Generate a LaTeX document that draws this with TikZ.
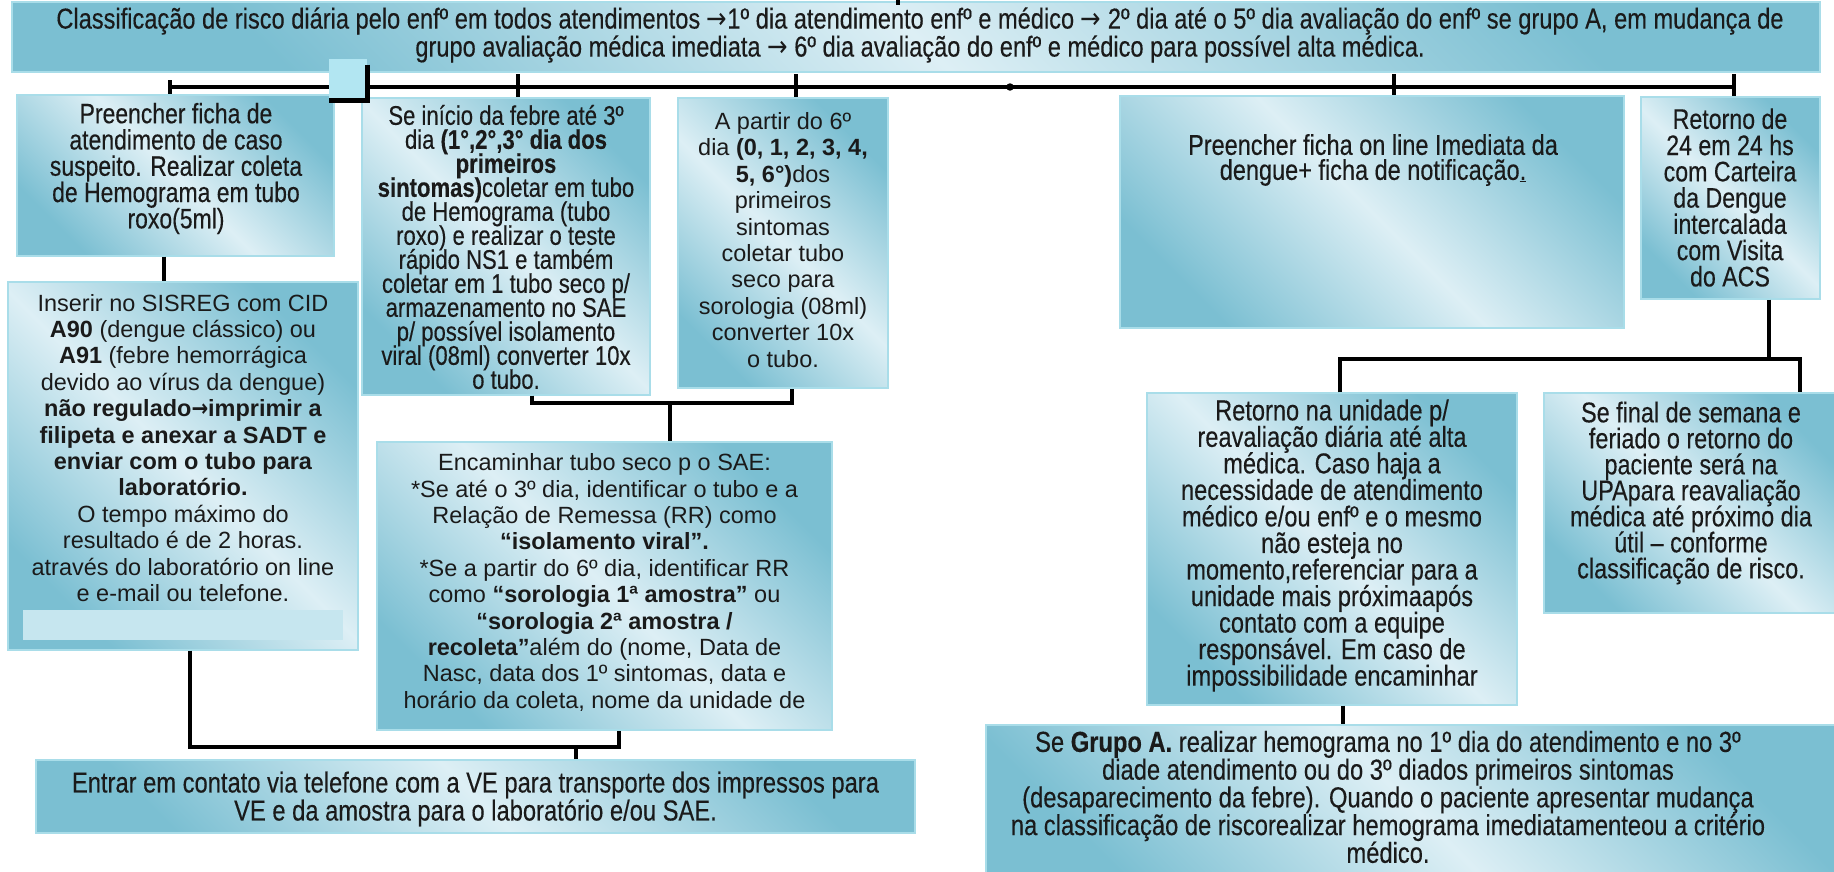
\documentclass[tikz,border=0pt]{standalone}
\usepackage{fontspec}
\setmainfont{Liberation Sans}
\newfontfamily\narrowfont{Liberation Sans}[FakeStretch=0.82,FakeBold=0.3]
\newfontfamily\arrfont{DejaVu Sans}[FakeStretch=0.85]
\newcommand\rarr{{\arrfont →}}
\usetikzlibrary{fit,shadings}
\definecolor{bdark}{HTML}{7BBFD2}
\definecolor{blight}{HTML}{DDEFF5}
\definecolor{bline}{HTML}{A9DDE9}
\definecolor{sqcol}{HTML}{B2E6F2}
\definecolor{inlight}{HTML}{C6E6EF}
\definecolor{txt}{HTML}{1A1A1A}
\newcommand\fN[2]{\narrowfont\fontsize{#1}{#2}\selectfont\lineskiplimit=-100pt\relax}
\newcommand\fR[2]{\fontsize{#1}{#2}\selectfont\lineskiplimit=-100pt\relax}
\tikzset{
  box/.style={draw=bline, line width=1pt, left color=bdark, right color=bdark,
    middle color=blight, shading angle=135, inner sep=0pt},
  txtnode/.style={inner sep=0pt, align=center, text=txt},
  conn/.style={line width=3.6pt, black},
}
\begin{document}
\begin{tikzpicture}[x=0.75pt,y=-0.75pt]
\useasboundingbox (0,0) rectangle (1834,871);
\fill[white] (0,0) rectangle (1834,871);

% banner
\node[box, fit={(12,2) (1820,72)}] (bn) {};
\node[txtnode, font={\fN{21.6}{21}}] (tbn) at (920,35) {Classificação de risco diária pelo enfº em todos atendimentos \rarr1º dia atendimento enfº e médico \rarr{} 2º dia até o 5º dia avaliação do enfº se grupo A, em mudança de\\grupo avaliação médica imediata \rarr{} 6º dia avaliação do enfº e médico para possível alta médica.};
\coordinate (topin) at (898,0);
\draw[conn] (topin) -- ++(0,5);

% boxes
\node[box, fit={(17,95) (334,256)}] (b1) {};
\node[txtnode, font={\fN{21}{19.7}}] (t1) at (176,168.5) {Preencher ficha de\\atendimento de caso\\suspeito. Realizar coleta\\de Hemograma em tubo\\roxo(5ml)};

\node[box, fit={(8,282) (358,650)}] (b2) {};
\node[txtnode, font={\fR{17.6}{19.8}}] (t2) at (183,448) {Inserir no SISREG com CID\\\textbf{A90} (dengue clássico) ou\\\textbf{A91} (febre hemorrágica\\devido ao vírus da dengue)\\\textbf{não regulado{\arrfont\bfseries →}imprimir a}\\\textbf{filipeta e anexar a SADT e}\\\textbf{enviar com o tubo para}\\\textbf{laboratório.}\\O tempo máximo do\\resultado é de 2 horas.\\através do laboratório on line\\e e-mail ou telefone.};
\node[fit={(23,610) (343,640)}, inner sep=0pt, fill=inlight] (b2in) {};

\node[box, fit={(362,98) (650,395)}] (b3) {};
\node[txtnode, font={\fN{20.2}{18}}] (t3) at (506,247) {Se início da febre até 3º\\dia \textbf{(1°,2°,3° dia dos}\\\textbf{primeiros}\\\textbf{sintomas)}coletar em tubo\\de Hemograma (tubo\\roxo) e realizar o teste\\rápido NS1 e também\\coletar em 1 tubo seco p/\\armazenamento no SAE\\p/ possível isolamento\\viral (08ml) converter 10x\\o tubo.};

\node[box, fit={(678,98) (888,388)}] (b4) {};
\node[txtnode, font={\fR{17.6}{19.8}}] (t4) at (783,240) {A partir do 6º\\dia \textbf{(0, 1, 2, 3, 4,}\\\textbf{5, 6°)}dos\\primeiros\\sintomas\\coletar tubo\\seco para\\sorologia (08ml)\\converter 10x\\o tubo.};

\node[box, fit={(1120,96) (1624,328)}] (b5) {};
\node[txtnode, font={\fN{21.5}{18.75}}] (t5) at (1373,160) {Preencher ficha on line Imediata da\\dengue+ ficha de notificação\underline{.}};

\node[box, fit={(1641,97) (1820,299)}] (b6) {};
\node[txtnode, font={\fN{21.2}{19.7}}] (t6) at (1730,197.5) {Retorno de\\24 em 24 hs\\com Carteira\\da Dengue\\intercalada\\com Visita\\do ACS};

\node[box, fit={(377,442) (832,730)}] (b7) {};
\node[txtnode, font={\fR{17.6}{19.8}}] (t7) at (604.5,582.5) {Encaminhar tubo seco p o SAE:\\{*}Se até o 3º dia, identificar o tubo e a\\Relação de Remessa (RR) como\\\textbf{“isolamento viral”.}\\{*}Se a partir do 6º dia, identificar RR\\como \textbf{“sorologia 1ª amostra”} ou\\\textbf{“sorologia 2ª amostra /}\\\textbf{recoleta”}além do (nome, Data de\\Nasc, data dos 1º sintomas, data e\\horário da coleta, nome da unidade de};

\node[box, fit={(36,760) (915,833)}] (b8) {};
\node[txtnode, font={\fN{21.7}{21}}] (t8) at (475.5,799) {Entrar em contato via telefone com a VE para transporte dos impressos para\\VE e da amostra para o laboratório e/ou SAE.};

\node[box, fit={(1147,393) (1517,705)}] (b9) {};
\node[txtnode, font={\fN{21.6}{19.9}}] (t9) at (1332,545.5) {Retorno na unidade p/\\reavaliação diária até alta\\médica. Caso haja a\\necessidade de atendimento\\médico e/ou enfº e o mesmo\\não esteja no\\momento,referenciar para a\\unidade mais próximaapós\\contato com a equipe\\responsável. Em caso de\\impossibilidade encaminhar};

\node[box, fit={(1544,393) (1840,613)}] (b10) {};
\node[txtnode, font={\fN{21.4}{19.5}}] (t10) at (1691,493) {Se final de semana e\\feriado o retorno do\\paciente será na\\UPApara reavaliação\\médica até próximo dia\\útil – conforme\\classificação de risco.};

\node[box, fit={(986,725) (1840,890)}] (b11) {};
\node[txtnode, font={\fN{21.7}{20.8}}] (t11) at (1388,797) {Se \textbf{Grupo A.} realizar hemograma no 1º dia do atendimento e no 3º\\diade atendimento ou do 3º diados primeiros sintomas\\(desaparecimento da febre). Quando o paciente apresentar mudança\\na classificação de riscorealizar hemograma imediatamenteou a critério\\médico.};

% top bus
\coordinate (busL) at (170,87);
\coordinate (busR) at (1734,87);
\draw[conn] (busL) -- (busR);
\coordinate (k1) at (170,80);
\coordinate (k3) at (518,74);
\coordinate (k4) at (796,74);
\coordinate (k5) at (1394,74);
\coordinate (k6) at (1734,74);
\draw[conn] (k1) -- (k1 |- b1.north);
\draw[conn] (k3) -- (k3 |- b3.north);
\draw[conn] (k4) -- (k4 |- b4.north);
\draw[conn] (k5) -- (k5 |- b5.north);
\draw[conn] (k6) -- (k6 |- b6.north);
\coordinate (dot) at (1010,87);
\fill (dot) circle (2.8pt);
\node[fit={(329,59) (367,100)}, inner sep=0pt, fill=sqcol] (sqr) {};
\draw[conn] ([yshift=-4.5pt]sqr.north east) -- (sqr.south east) -- (sqr.south west);

% left connectors
\coordinate (c12) at (164,0);
\draw[conn] (b1.south -| c12) -- (b2.north -| c12);
\coordinate (c2) at (190,747);
\coordinate (c7) at (619,747);
\coordinate (c8) at (576,747);
\draw[conn] (b2.south -| c2) -- (c2) -- (c7) -- (b7.south -| c7);
\draw[conn] (c8) -- (b8.north -| c8);
\coordinate (d3) at (532,403);
\coordinate (d4) at (792,403);
\coordinate (d7) at (670,403);
\draw[conn] (b3.south -| d3) -- (d3) -- (d4) -- (b4.south -| d4);
\draw[conn] (d7) -- (b7.north -| d7);

% right connectors
\coordinate (e6) at (1769,359);
\coordinate (e9) at (1340,359);
\coordinate (e10) at (1800,359);
\draw[conn] (b6.south -| e6) -- (e6);
\draw[conn] (b9.north -| e9) -- (e9) -- (e10) -- (b10.north -| e10);
\coordinate (f9) at (1343,0);
\draw[conn] (b9.south -| f9) -- (b11.north -| f9);
\end{tikzpicture}
\end{document}
